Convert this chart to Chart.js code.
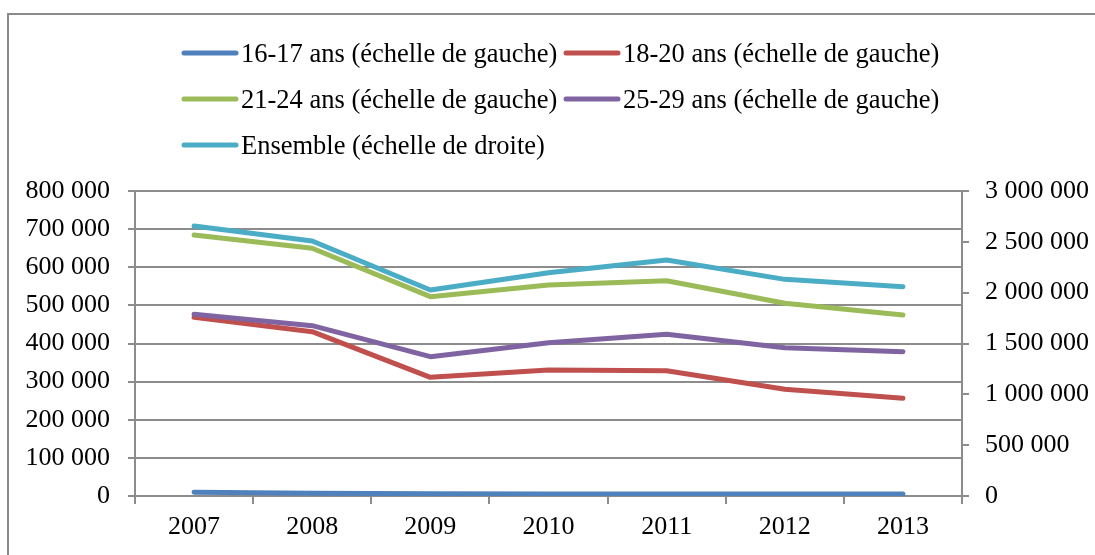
<!DOCTYPE html>
<html>
<head>
<meta charset="utf-8">
<script src="https://cdn.jsdelivr.net/npm/chart.js@4/dist/chart.umd.min.js"></script>
<style>
  html, body { margin: 0; padding: 0; background: #fff; }
  canvas { display: block; }
</style>
</head>
<body>
<canvas id="chart" width="1095" height="555"></canvas>
<script>
const years = ["2007", "2008", "2009", "2010", "2011", "2012", "2013"];
const ans1617 = [9700, 7500, 6000, 5500, 5200, 5000, 5000];
const ans1820 = [468700, 431000, 311300, 330500, 328700, 279800, 256200];
const ans2124 = [684600, 649700, 522800, 553400, 564800, 505400, 474800];
const ans2529 = [476600, 446700, 365400, 402100, 424000, 389000, 378500];
const ensemble = [2656000, 2508000, 2026000, 2196000, 2321000, 2131000, 2059000];

const leftTicks = { min: 0, max: 800000, step: 100000 };
const rightTicks = { min: 0, max: 3000000, step: 500000 };

const GRID = "#8c8c8c";
const FONT = "'Liberation Serif', 'Times New Roman', serif";

// 123456 -> "123 456"
const fmt = (v) => String(v).replace(/\B(?=(\d{3})+(?!\d))/g, " ");

Chart.defaults.font.family = FONT;
Chart.defaults.font.size = 26;
Chart.defaults.color = "#000";

function line(label, data, color, axis, order) {
  return {
    label, data, yAxisID: axis, order,
    borderColor: color, backgroundColor: color,
    borderWidth: 5, pointRadius: 0, tension: 0,
    borderCapStyle: "round", borderJoinStyle: "round",
  };
}

// Excel-like legend: two columns, rows left aligned
const excelLegend = {
  id: "excelLegend",
  afterDraw(chart) {
    const ctx = chart.ctx;
    const cols = [182, 564];
    const rows = [53, 99, 145];
    ctx.save();
    ctx.font = "26.5px " + FONT;
    ctx.textBaseline = "middle";
    ctx.fillStyle = "#000";
    chart.data.datasets.forEach((ds, i) => {
      const x = cols[i % 2], y = rows[Math.floor(i / 2)];
      ctx.strokeStyle = ds.borderColor;
      ctx.lineWidth = 5;
      ctx.lineCap = "round";
      ctx.beginPath();
      ctx.moveTo(x + 2, y);
      ctx.lineTo(x + 54, y);
      ctx.stroke();
      ctx.fillText(ds.label, x + 59, y + 2);
    });
    ctx.restore();
  },
  beforeDraw(chart) {
    // outer frame (top and left edges visible)
    const ctx = chart.ctx;
    ctx.save();
    ctx.strokeStyle = "#8a8a8a";
    ctx.lineWidth = 2;
    ctx.beginPath();
    ctx.moveTo(8, 555);
    ctx.lineTo(8, 14);
    ctx.lineTo(1095, 14);
    ctx.stroke();
    ctx.restore();
  },
};

new Chart(document.getElementById("chart"), {
  type: "line",
  data: {
    labels: years,
    datasets: [
      line("16-17 ans (échelle de gauche)", ans1617, "#4f81bd", "y", 5),
      line("18-20 ans (échelle de gauche)", ans1820, "#c0504d", "y", 4),
      line("21-24 ans (échelle de gauche)", ans2124, "#9bbb59", "y", 3),
      line("25-29 ans (échelle de gauche)", ans2529, "#8064a2", "y", 2),
      line("Ensemble (échelle de droite)", ensemble, "#4bacc6", "y2", 1),
    ],
  },
  options: {
    responsive: false,
    animation: false,
    layout: { padding: { top: 191, left: 0, right: 0, bottom: 0 } },
    plugins: { legend: { display: false }, tooltip: { enabled: false } },
    scales: {
      x: {
        offset: true,
        afterFit: (s) => { s.height = 59; },
        grid: { offset: true, drawOnChartArea: false, color: GRID, lineWidth: 2, tickLength: 8 },
        border: { color: GRID, width: 2 },
        ticks: { padding: 8, maxRotation: 0 },
      },
      y: {
        position: "left",
        min: leftTicks.min, max: leftTicks.max,
        afterFit: (s) => { s.width = 135; },
        grid: { color: GRID, lineWidth: 2, tickLength: 7 },
        border: { color: GRID, width: 2 },
        ticks: { stepSize: leftTicks.step, padding: 18, callback: (v) => fmt(v) },
      },
      y2: {
        position: "right",
        min: rightTicks.min, max: rightTicks.max,
        afterFit: (s) => { s.width = 133; },
        grid: { drawOnChartArea: false, color: GRID, lineWidth: 2, tickLength: 7 },
        border: { color: GRID, width: 2 },
        ticks: { stepSize: rightTicks.step, padding: 16, callback: (v) => fmt(v) },
      },
    },
  },
  plugins: [excelLegend],
});
</script>
</body>
</html>
